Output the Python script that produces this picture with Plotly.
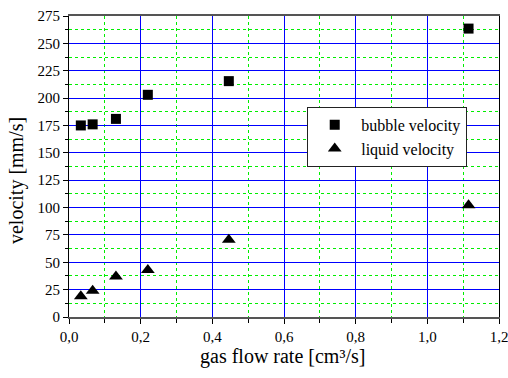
import plotly.graph_objects as go

gas_flow = [0.033, 0.066, 0.131, 0.220, 0.446, 1.115]
bubble_velocity = [175, 176, 181, 203, 215.5, 263.5]
liquid_velocity = [19, 24, 37, 43, 70.5, 102]

FONT = "Times New Roman"

fig = go.Figure()
fig.add_trace(go.Scatter(x=gas_flow, y=bubble_velocity, mode="markers", name="bubble velocity",
                         marker=dict(symbol="square", size=10, color="black")))
fig.add_trace(go.Scatter(x=gas_flow, y=liquid_velocity, mode="markers", name="liquid velocity",
                         marker=dict(symbol="triangle-up", size=12, color="black")))

fig.update_layout(
    template="none",
    width=508, height=378,
    margin=dict(l=69, r=9, t=16, b=61),
    plot_bgcolor="white", paper_bgcolor="white",
    separators=", ",
    font=dict(family=FONT, size=15, color="black"),
    showlegend=True,
    legend=dict(x=0.554, y=0.698, xanchor="left", yanchor="top",
                bgcolor="white", bordercolor="#222222", borderwidth=1,
                font=dict(family=FONT, size=16), itemwidth=43),
    xaxis=dict(range=[0, 1.2], dtick=0.2, tick0=0, tickformat=".1f",
               showgrid=True, gridcolor="#0000ff", gridwidth=1,
               ticks="outside", ticklen=5, tickcolor="black",
               ticklabeloverflow="allow",
               showline=True, linecolor="#555555", linewidth=2, mirror=True,
               zeroline=False,
               minor=dict(dtick=0.2, tick0=0.1, showgrid=True, gridcolor="#00ee00",
                          griddash="dot", gridwidth=1, ticks="outside", ticklen=4,
                          tickcolor="black"),
               tickfont=dict(family=FONT, size=15, color="black")),
    yaxis=dict(range=[0, 275], dtick=25, tick0=0,
               showgrid=True, gridcolor="#0000ff", gridwidth=1,
               ticks="outside", ticklen=5, tickcolor="black",
               ticklabeloverflow="allow",
               showline=True, linecolor="black", linewidth=1, mirror=True,
               zeroline=False,
               minor=dict(dtick=25, tick0=12.5, showgrid=True, gridcolor="#00ee00",
                          griddash="dot", gridwidth=1, ticks="outside", ticklen=3,
                          tickcolor="black"),
               tickfont=dict(family=FONT, size=15, color="black")),
    annotations=[
        dict(text="gas flow rate [cm³/s]", xref="paper", yref="paper",
             x=0.497, y=-0.1305, xanchor="center", yanchor="middle",
             showarrow=False, font=dict(family=FONT, size=20, color="black")),
        dict(text="velocity [mm/s]", xref="paper", yref="paper",
             x=-0.1233, y=0.455, xanchor="center", yanchor="middle", textangle=-90,
             showarrow=False, font=dict(family=FONT, size=20, color="black")),
    ],
)

fig.write_html("out.html")
